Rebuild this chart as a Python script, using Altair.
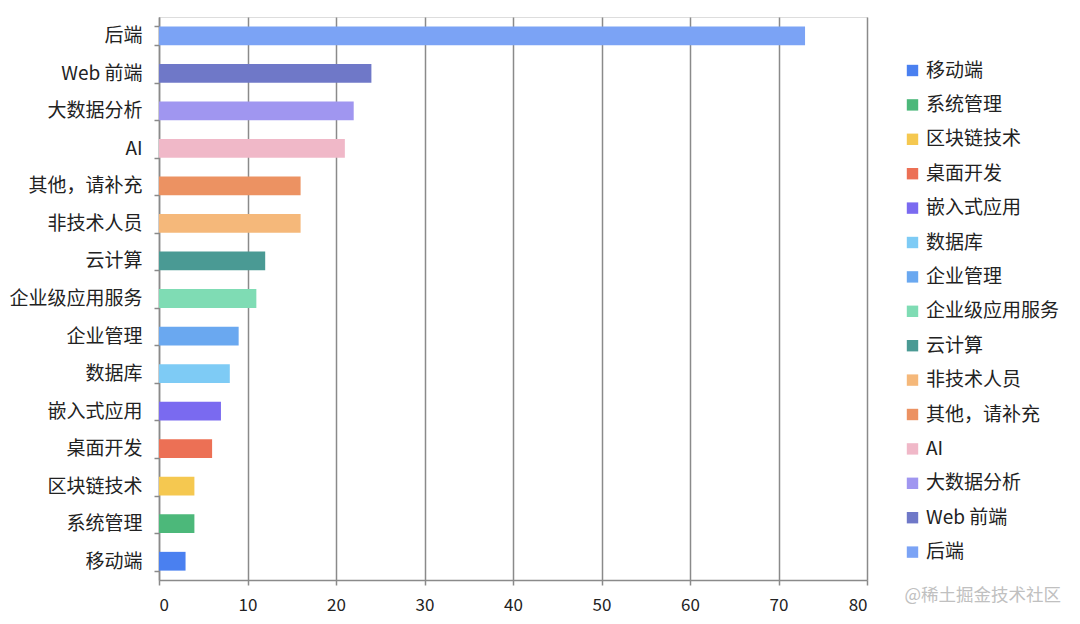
import altair as alt
import pandas as pd

categories = ["后端", "Web 前端", "大数据分析", "AI", "其他，请补充", "非技术人员", "云计算",
              "企业级应用服务", "企业管理", "数据库", "嵌入式应用", "桌面开发", "区块链技术",
              "系统管理", "移动端"]
values = [73, 24, 22, 21, 16, 16, 12, 11, 9, 8, 7, 6, 4, 4, 3]
colors = ["#7ba3f5", "#6f78c8", "#a096f0", "#f0b8c8", "#ec9262", "#f5b87a", "#4a9a94",
          "#7fdcb4", "#6aa8f0", "#7ecbf5", "#7a6af0", "#ec7055", "#f5c850", "#4cb87a", "#4a80f0"]
x_ticks = [0, 10, 20, 30, 40, 50, 60, 70, 80]
watermark = "@稀土掘金技术社区"

df = pd.DataFrame({"cat": categories, "val": values})
legend_order = categories[::-1]
legend_colors = colors[::-1]

FONT = "Noto Sans CJK SC"

bars = alt.Chart(df).mark_bar().encode(
    x=alt.X("val:Q", scale=alt.Scale(domain=[0, 80], nice=False),
            axis=alt.Axis(values=x_ticks, title=None, grid=True, gridColor="#8a8a8a",
                          gridWidth=1.5, domainColor="#8a8a8a", domainWidth=1.5,
                          tickColor="#8a8a8a", tickWidth=1.5, tickSize=5,
                          labelFontSize=17, labelColor="#222", labelPadding=12, labelFont=FONT)),
    y=alt.Y("cat:N", sort=categories,
            scale=alt.Scale(paddingInner=0.5, paddingOuter=0.25),
            axis=alt.Axis(title=None, grid=False, tickBand="extent", domainColor="#8a8a8a",
                          domainWidth=1.5, tickColor="#8a8a8a", tickWidth=1.5, tickSize=5,
                          labelFontSize=19, labelColor="#222", labelPadding=12, labelFont=FONT)),
    color=alt.Color("cat:N", scale=alt.Scale(domain=legend_order, range=legend_colors),
                    legend=alt.Legend(title=None, orient="none", legendX=744, legendY=44,
                                      symbolType="square", symbolSize=130, symbolStrokeWidth=0,
                                      labelFontSize=19, labelColor="#222", labelFont=FONT,
                                      rowPadding=14.4, labelOffset=4, labelLimit=300)),
)

wm = alt.Chart(pd.DataFrame({"t": [watermark]})).mark_text(
    align="right", baseline="middle", fontSize=17.5, color="#c0c0c0", font=FONT
).encode(text="t:N", x=alt.value(902), y=alt.value(579))

chart = alt.layer(bars, wm).properties(
    width=708, height=563,
    autosize=alt.AutoSizeParams(type="none"),
    padding={"left": 151, "top": 9, "right": 205, "bottom": 36},
).configure_view(stroke=None).configure(font=FONT)

chart.save("out.html", embed_options={"renderer": "svg", "actions": False})
